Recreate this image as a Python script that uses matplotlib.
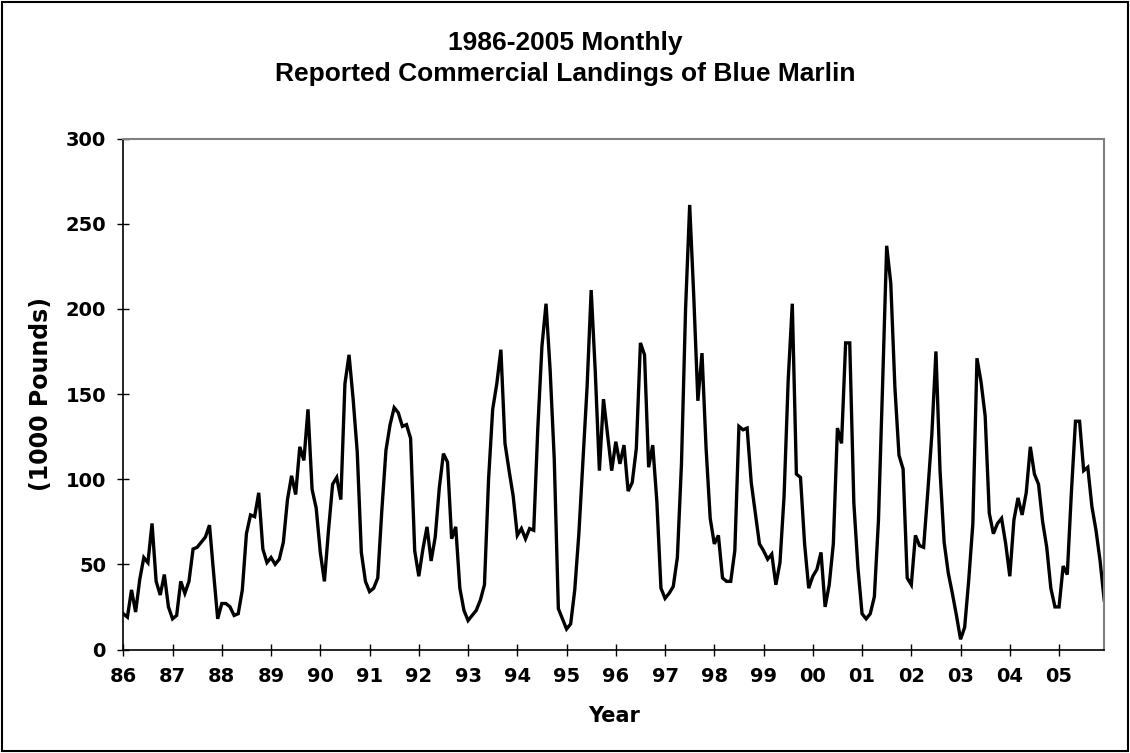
import matplotlib
matplotlib.use("Agg")
import matplotlib.pyplot as plt
from matplotlib.patches import Rectangle
from matplotlib.font_manager import FontProperties

# Monthly reported commercial landings of blue marlin (1000 pounds), Jan..Dec
m1986 = [21, 19, 35, 22, 41, 54, 51, 74, 40, 32, 44, 25]
m1987 = [18, 20, 40, 33, 40, 59, 60, 63, 66, 73, 45, 18]
m1988 = [27, 27, 25, 20, 21, 35, 68, 79, 78, 92, 59, 51]
m1989 = [54, 50, 53, 63, 88, 102, 91, 119, 111, 141, 94, 83]
m1990 = [57, 40, 70, 97, 101, 88, 156, 173, 147, 116, 57, 40]
m1991 = [34, 36, 42, 82, 117, 132, 142, 139, 131, 132, 124, 58]
m1992 = [43, 59, 72, 52, 66, 95, 115, 110, 65, 72, 36, 23]
m1993 = [17, 20, 23, 29, 38, 100, 141, 156, 176, 121, 105, 90]
m1994 = [67, 71, 65, 71, 70, 130, 178, 203, 164, 112, 24, 18]
m1995 = [12, 15, 35, 68, 111, 154, 211, 163, 105, 147, 126, 105]
m1996 = [122, 109, 120, 93, 98, 118, 180, 173, 107, 120, 87, 36]
m1997 = [30, 33, 37, 54, 109, 200, 261, 207, 146, 174, 118, 77]
m1998 = [62, 67, 42, 40, 40, 58, 131, 129, 130, 98, 80, 62]
m1999 = [58, 53, 56, 38, 51, 90, 158, 203, 103, 101, 62, 36]
m2000 = [43, 47, 57, 25, 38, 62, 130, 121, 180, 180, 86, 48]
m2001 = [21, 18, 21, 31, 76, 155, 237, 215, 154, 114, 106, 42]
m2002 = [38, 67, 61, 60, 92, 126, 175, 105, 63, 45, 33, 20]
m2003 = [6, 13, 41, 74, 171, 157, 137, 80, 68, 74, 77, 62]
m2004 = [43, 76, 89, 79, 92, 119, 103, 97, 75, 60, 36, 25]
m2005 = [25, 49, 44, 92, 134, 134, 105, 107, 84, 70, 52, 29]

year_labels = ["86", "87", "88", "89", "90", "91", "92", "93", "94", "95",
               "96", "97", "98", "99", "00", "01", "02", "03", "04", "05"]
y_ticks = [0, 50, 100, 150, 200, 250, 300]

series = (m1986 + m1987 + m1988 + m1989 + m1990 + m1991 + m1992 + m1993 +
          m1994 + m1995 + m1996 + m1997 + m1998 + m1999 + m2000 + m2001 +
          m2002 + m2003 + m2004 + m2005)
months = list(range(len(series)))

W, H = 1130, 753
fig = plt.figure(figsize=(W / 100, H / 100), dpi=100)
fig.patch.set_facecolor("white")

left, right, top, bottom = 123.3, 1104.2, 138.5, 649.5
ax = fig.add_axes([left / W, 1 - bottom / H, (right - left) / W, (bottom - top) / H])

ax.plot(months, series, color="black", linewidth=2.4, solid_joinstyle="miter")

ax.set_xlim(0, len(series) - 1)
ax.set_ylim(0, 300)
ax.set_xticks(list(range(0, len(series), 12)))
ax.set_xticklabels(year_labels)
ax.set_yticks(y_ticks)

tick_fp = FontProperties(family="DejaVu Sans", weight="bold", size=14)
for lab in ax.get_xticklabels() + ax.get_yticklabels():
    lab.set_fontproperties(tick_fp)

ax.tick_params(axis="both", direction="inout", length=9, width=1.0, color="black")
ax.tick_params(axis="x", pad=8)
ax.tick_params(axis="y", pad=8)

for s in ("left", "bottom"):
    ax.spines[s].set_color("black")
    ax.spines[s].set_linewidth(1.2)
for s in ("top", "right"):
    ax.spines[s].set_color("#808080")
    ax.spines[s].set_linewidth(1.5)

fig.text((left + right) / 2 / W, 1 - 716 / H, "Year", ha="center", va="center",
         fontfamily="DejaVu Sans", fontweight="bold", fontsize=15)
fig.text(41 / W, 1 - (top + bottom) / 2 / H, "(1000 Pounds)", ha="center", va="center",
         rotation=90, fontfamily="DejaVu Sans", fontweight="bold", fontsize=17)

title_fp = dict(fontfamily="Liberation Sans", fontweight="bold", fontsize=19)
fig.text(0.5, 1 - 43 / H, "1986-2005 Monthly", ha="center", va="center", **title_fp)
fig.text(0.5, 1 - 74 / H, "Reported Commercial Landings of Blue Marlin", ha="center",
         va="center", **title_fp)

fig.patches.append(Rectangle((2 / W, 2 / H), (W - 4) / W, (H - 4) / H, transform=fig.transFigure,
                             fill=False, edgecolor="black", linewidth=1.5))

fig.savefig("out.png", dpi=100, facecolor="white")
